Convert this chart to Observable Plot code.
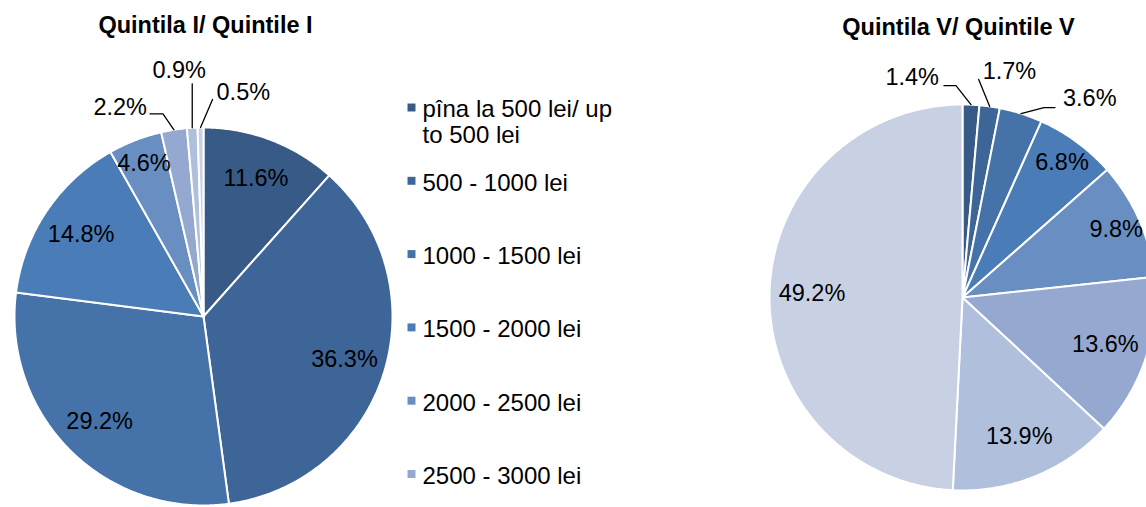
<!DOCTYPE html>
<html><head><meta charset="utf-8">
<script src="https://cdn.jsdelivr.net/npm/d3@7"></script>
<script src="https://cdn.jsdelivr.net/npm/@observablehq/plot@0.6"></script>
<style>
html,body{margin:0;padding:0;background:#fff;}
#chart{width:1146px;height:507px;overflow:hidden;position:relative;}
#chart svg{display:block;}
</style></head><body><div id="chart"></div>
<script>
// ---- data ----
const categories = [
  "pîna la 500 lei/ up to 500 lei",
  "500 - 1000 lei",
  "1000 - 1500 lei",
  "1500 - 2000 lei",
  "2000 - 2500 lei",
  "2500 - 3000 lei",
  "3000 - 3500 lei",
  "peste 3500 lei/ over 3500 lei"
];
const quintileI = [11.6, 36.3, 29.2, 14.8, 4.6, 2.2, 0.9, 0.5];
const quintileV = [1.4, 1.7, 3.6, 6.8, 9.8, 13.6, 13.9, 49.2];
const titles = ["Quintila I/ Quintile I", "Quintila V/ Quintile V"];
const colors = ["#375A87","#3E6598","#4572A8","#4A7CB7","#698EC2","#95A8D0","#B0C0DC","#C8D1E4"];

// ---- layout ----
const W = 1146, H = 507;
const FONT = "'Liberation Sans', Arial, sans-serif";
const pies = [
  {title: titles[0], values: quintileI, cx: 203, cy: 316, r: 189, tx: 205, ty: 25},
  {title: titles[1], values: quintileV, cx: 962, cy: 297, r: 193, tx: 958, ty: 27}
];
// callout offsets (pixels relative to slice edge point) for small slices
const callouts = {
  "0-5": {pts: [[-11,-16],[-24,-16]], text: [-27,-22], anchor: "end"},
  "0-6": {pts: [[0,-44]], text: [-13,-57], anchor: "middle"},
  "0-7": {pts: [[12,-28]], text: [16,-35], anchor: "start"},
  "1-0": {pts: [[-15,-19],[-27,-19]], text: [-32,-27], anchor: "end"},
  "1-1": {pts: [[-11,-27]], text: [-7,-35], anchor: "start"},
  "1-2": {pts: [[23,-6],[34,-6]], text: [42,-15], anchor: "start"}
};

const polys = [], inside = [], outside = [], leaders = [], titleRows = [], shadows = [];
pies.forEach((p, pi) => {
  titleRows.push({x: p.tx, y: p.ty, t: p.title});
  shadows.push({x: p.cx + 1, y: p.cy + 2, r: p.r + 1.5});
  const arcs = d3.pie().sort(null).value(d => d)(p.values);
  arcs.forEach((a, i) => {
    const key = pi + "-" + i;
    const cat = categories[i];
    polys.push({key, cat, x: p.cx, y: p.cy});
    const n = Math.max(2, Math.ceil((a.endAngle - a.startAngle) / (Math.PI / 360)));
    for (let k = 0; k <= n; k++) {
      const t = a.startAngle + (a.endAngle - a.startAngle) * k / n;
      polys.push({key, cat, x: p.cx + p.r * Math.sin(t), y: p.cy - p.r * Math.cos(t)});
    }
    const mid = (a.startAngle + a.endAngle) / 2;
    const label = p.values[i].toFixed(1) + "%";
    if (callouts[key]) {
      const c = callouts[key];
      const ex = p.cx + p.r * Math.sin(mid), ey = p.cy - p.r * Math.cos(mid);
      leaders.push({key, x: ex, y: ey});
      c.pts.forEach(([dx, dy]) => leaders.push({key, x: ex + dx, y: ey + dy}));
      outside.push({x: ex + c.text[0], y: ey + c.text[1], t: label, anchor: c.anchor});
    } else {
      const f = p.values[i] < 10 ? 0.87 : 0.78;
      inside.push({x: p.cx + f * p.r * Math.sin(mid), y: p.cy - f * p.r * Math.cos(mid), t: label});
    }
  });
});

const legend = categories.map((c, i) => ({cat: c, x: 411, y: 107 + 73.3 * i})).filter(d => d.y < H - 10);

const outsideText = anchor => Plot.text(outside.filter(d => d.anchor === anchor),
  {x: "x", y: "y", text: "t", textAnchor: anchor, fontSize: 23.5, fill: "black", fontFamily: FONT});

const chart = Plot.plot({
  width: W, height: H,
  margin: 0,
  x: {domain: [0, W], range: [0, W], axis: null},
  y: {domain: [0, H], range: [0, H], axis: null},
  color: {domain: categories, range: colors},
  style: {fontFamily: FONT, background: "#fff", overflow: "hidden"},
  marks: [
    Plot.dot(shadows, {x: "x", y: "y", r: "r", fill: "#cfcfcf", stroke: "none"}),
    Plot.line(polys, {x: "x", y: "y", z: "key", fill: "cat", stroke: "white", strokeWidth: 2, strokeLinejoin: "round", curve: "linear-closed"}),
    Plot.line(leaders, {x: "x", y: "y", z: "key", stroke: "black", strokeWidth: 1.3}),
    Plot.text(inside, {x: "x", y: "y", text: "t", fontSize: 23.5, fill: "black", fontFamily: FONT}),
    outsideText("start"),
    outsideText("middle"),
    outsideText("end"),
    Plot.text(titleRows, {x: "x", y: "y", text: "t", fontSize: 23.5, fontWeight: "bold", fill: "black", fontFamily: FONT}),
    Plot.dot(legend, {x: "x", y: "y", fill: "cat", symbol: "square", r: 4.5, stroke: "none"}),
    Plot.text(legend, {x: "x", y: "y", text: "cat", dx: 11, dy: -8.6, textAnchor: "start", lineAnchor: "top", lineWidth: 9.3, lineHeight: 1.08, fontSize: 24, fill: "black", fontFamily: FONT})
  ]
});
document.getElementById("chart").appendChild(chart);
</script></body></html>
